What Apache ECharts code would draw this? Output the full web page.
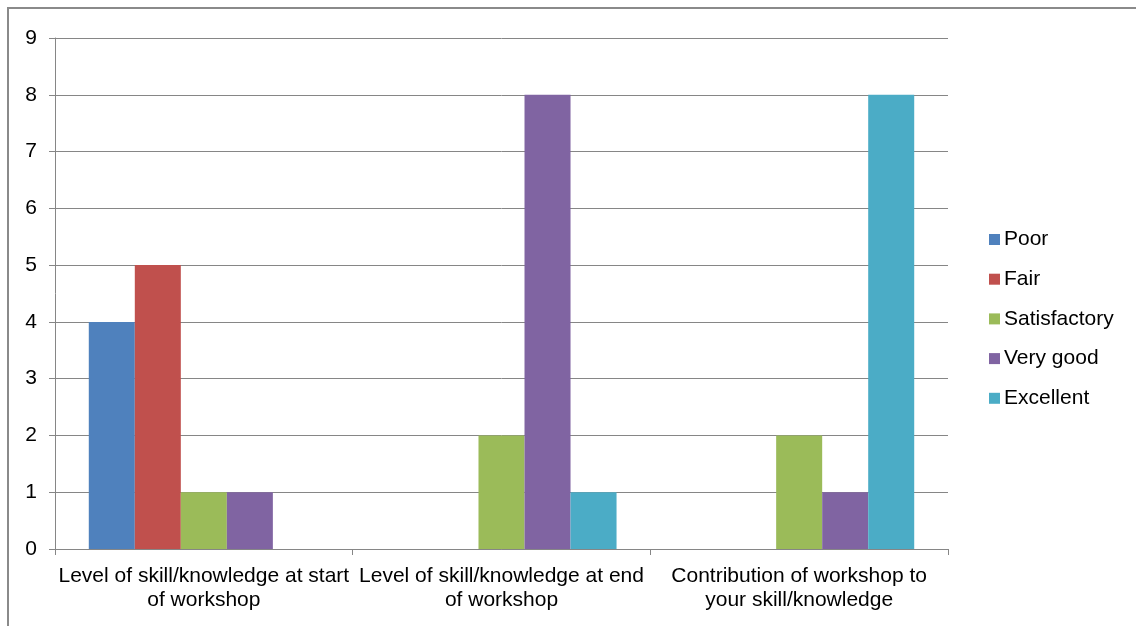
<!DOCTYPE html>
<html>
<head>
<meta charset="utf-8">
<script src="https://cdn.jsdelivr.net/npm/echarts@6/dist/echarts.min.js"></script>
<style>
html,body{margin:0;padding:0;background:#fff;}
#chart{width:1136px;height:626px;}
</style>
</head>
<body>
<div id="chart"></div>
<script>
const categories = [
  "Level of skill/knowledge at start\nof workshop",
  "Level of skill/knowledge at end\nof workshop",
  "Contribution of workshop to\nyour skill/knowledge"
];
const seriesNames = ["Poor", "Fair", "Satisfactory", "Very good", "Excellent"];
const poor = [4, 0, 0];
const fair = [5, 0, 0];
const satisfactory = [1, 2, 2];
const veryGood = [1, 8, 1];
const excellent = [0, 1, 8];
const yTicks = [0, 1, 2, 3, 4, 5, 6, 7, 8, 9];

const colors = ["#4F81BD", "#C0504D", "#9BBB59", "#8064A2", "#4BACC6"];
const values = [poor, fair, satisfactory, veryGood, excellent];
const font = "Liberation Sans, Arial, sans-serif";
const axisGray = "#868686";

const chart = echarts.init(document.getElementById('chart'), null, {renderer: 'canvas'});
chart.setOption({
  animation: false,
  backgroundColor: '#fff',
  graphic: [{
    type: 'rect',
    shape: {x: 8, y: 8, width: 1300, height: 800},
    style: {fill: 'none', stroke: '#8a8a8a', lineWidth: 2},
    silent: true,
    z: 100
  }],
  grid: {left: 55, right: 188, top: 38, bottom: 77, containLabel: false},
  legend: {
    orient: 'vertical',
    left: 989,
    top: 229,
    padding: 0,
    icon: 'rect',
    itemWidth: 11,
    itemHeight: 11,
    itemGap: 18.7,
    textStyle: {fontFamily: font, fontSize: 21, color: '#000', lineHeight: 21, padding: [0,0,0,-1]},
    data: seriesNames
  },
  xAxis: {
    type: 'category',
    data: categories,
    axisLine: {lineStyle: {color: axisGray, width: 1}},
    axisTick: {show: true, length: 6, lineStyle: {color: axisGray}},
    axisLabel: {fontFamily: font, fontSize: 21, color: '#000', lineHeight: 24, margin: 15, interval: 0, align: 'center'},
    splitLine: {show: false}
  },
  yAxis: {
    type: 'value',
    min: yTicks[0],
    max: yTicks[yTicks.length - 1],
    interval: 1,
    axisLine: {show: true, lineStyle: {color: axisGray, width: 1}},
    axisTick: {show: true, length: 6, lineStyle: {color: axisGray}},
    axisLabel: {fontFamily: font, fontSize: 21, color: '#000', margin: 18},
    splitLine: {show: true, lineStyle: {color: axisGray, width: 1}}
  },
  series: seriesNames.map((name, i) => ({
    name: name,
    type: 'bar',
    data: values[i],
    barGap: '0%',
    barCategoryGap: '22.7%',
    itemStyle: {color: colors[i]}
  }))
});
</script>
</body>
</html>
